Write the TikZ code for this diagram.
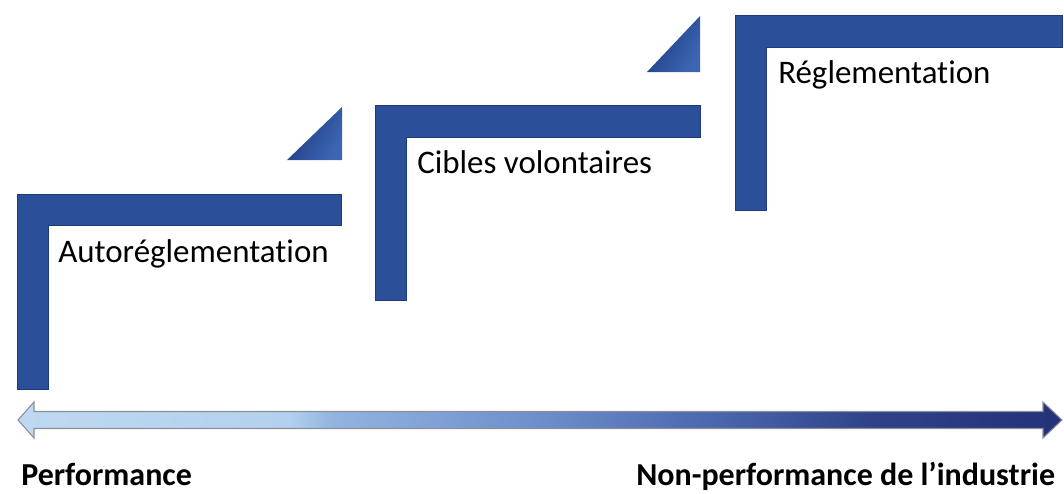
\documentclass[tikz,border=0pt]{standalone}
\usepackage{fontspec}
\setmainfont{Carlito}[Ligatures=NoCommon]
\usepackage{tikz}
\usetikzlibrary{calc}
\definecolor{stepblue}{HTML}{2C4F99}
\definecolor{stepdark}{HTML}{1E3A7E}
\definecolor{steplight}{HTML}{3C66B4}
\definecolor{scaleline}{HTML}{8A8F98}
\definecolor{scaleA}{HTML}{BFD8F1}
\definecolor{scaleB}{HTML}{B3D0EE}
\definecolor{scaleC}{HTML}{93B4E0}
\definecolor{scaleD}{HTML}{6D8ECB}
\definecolor{scaleE}{HTML}{4C68AE}
\definecolor{scaleF}{HTML}{2F4288}
\definecolor{scaleG}{HTML}{233178}
\pgfdeclarehorizontalshading{scalegrad}{100bp}{color(0bp)=(scaleA); color(25bp)=(scaleA);
  color(38bp)=(scaleB); color(40bp)=(scaleC); color(50bp)=(scaleD);
  color(58bp)=(scaleE); color(66bp)=(scaleF); color(75bp)=(scaleG); color(100bp)=(scaleG)}
\tikzset{
  stepbar/.style={fill=stepblue, draw=stepdark, line width=0.6pt},
  stepcorner/.style={left color=stepdark, right color=steplight, shading angle=60},
  steplabel/.style={anchor=base west, inner sep=0pt, font=\fontsize{24.7}{29}\selectfont},
  endlabel/.style={anchor=base west, inner sep=0pt, font=\fontsize{24}{28}\selectfont\bfseries}
}

\begin{document}
\begin{tikzpicture}[x=0.75pt, y=-0.75pt]
	\useasboundingbox (0,0) rectangle (1064,493);
	% the three steps
	\draw[stepbar] (17,194) -- (341,194) -- (341,225) -- (48,225) -- (48,389) -- (17,389) -- cycle;
	\draw[stepbar] (375,105) -- (700,105) -- (700,137) -- (406,137) -- (406,300) -- (375,300) -- cycle;
	\draw[stepbar] (735,15) -- (1062,15) -- (1062,47) -- (766,47) -- (766,210) -- (735,210) -- cycle;
	\shade[stepcorner] (287,160) -- (342,160) -- (342,107) -- cycle;
	\shade[stepcorner] (647,72) -- (700,72) -- (700,16) -- cycle;
	\node[steplabel] (auto) at (58,262) {Autoréglementation};
	\node[steplabel] (cibles) at (417,173) {Cibles volontaires};
	\node[steplabel] (regl) at (778,83) {Réglementation};
	% scale arrow
	\coordinate (arrL) at (18,420);
	\coordinate (arrR) at (1062,420);
	\shade[shading=scalegrad, draw=scaleline, line width=0.8pt] (arrL) -- ++(16,-18) -- ++(0,9.5) -- ++(1009,0) -- ++(0,-9.5)
		-- (arrR) -- ++(-19,18) -- ++(0,-9.5) -- ++(-1009,0) -- ++(0,9.5) -- cycle;
	\node[endlabel] (perf) at (21,485) {Performance};
	\node[endlabel] (nonperf) at (636,485) {Non-performance de l’industrie};
\end{tikzpicture}
\end{document}
